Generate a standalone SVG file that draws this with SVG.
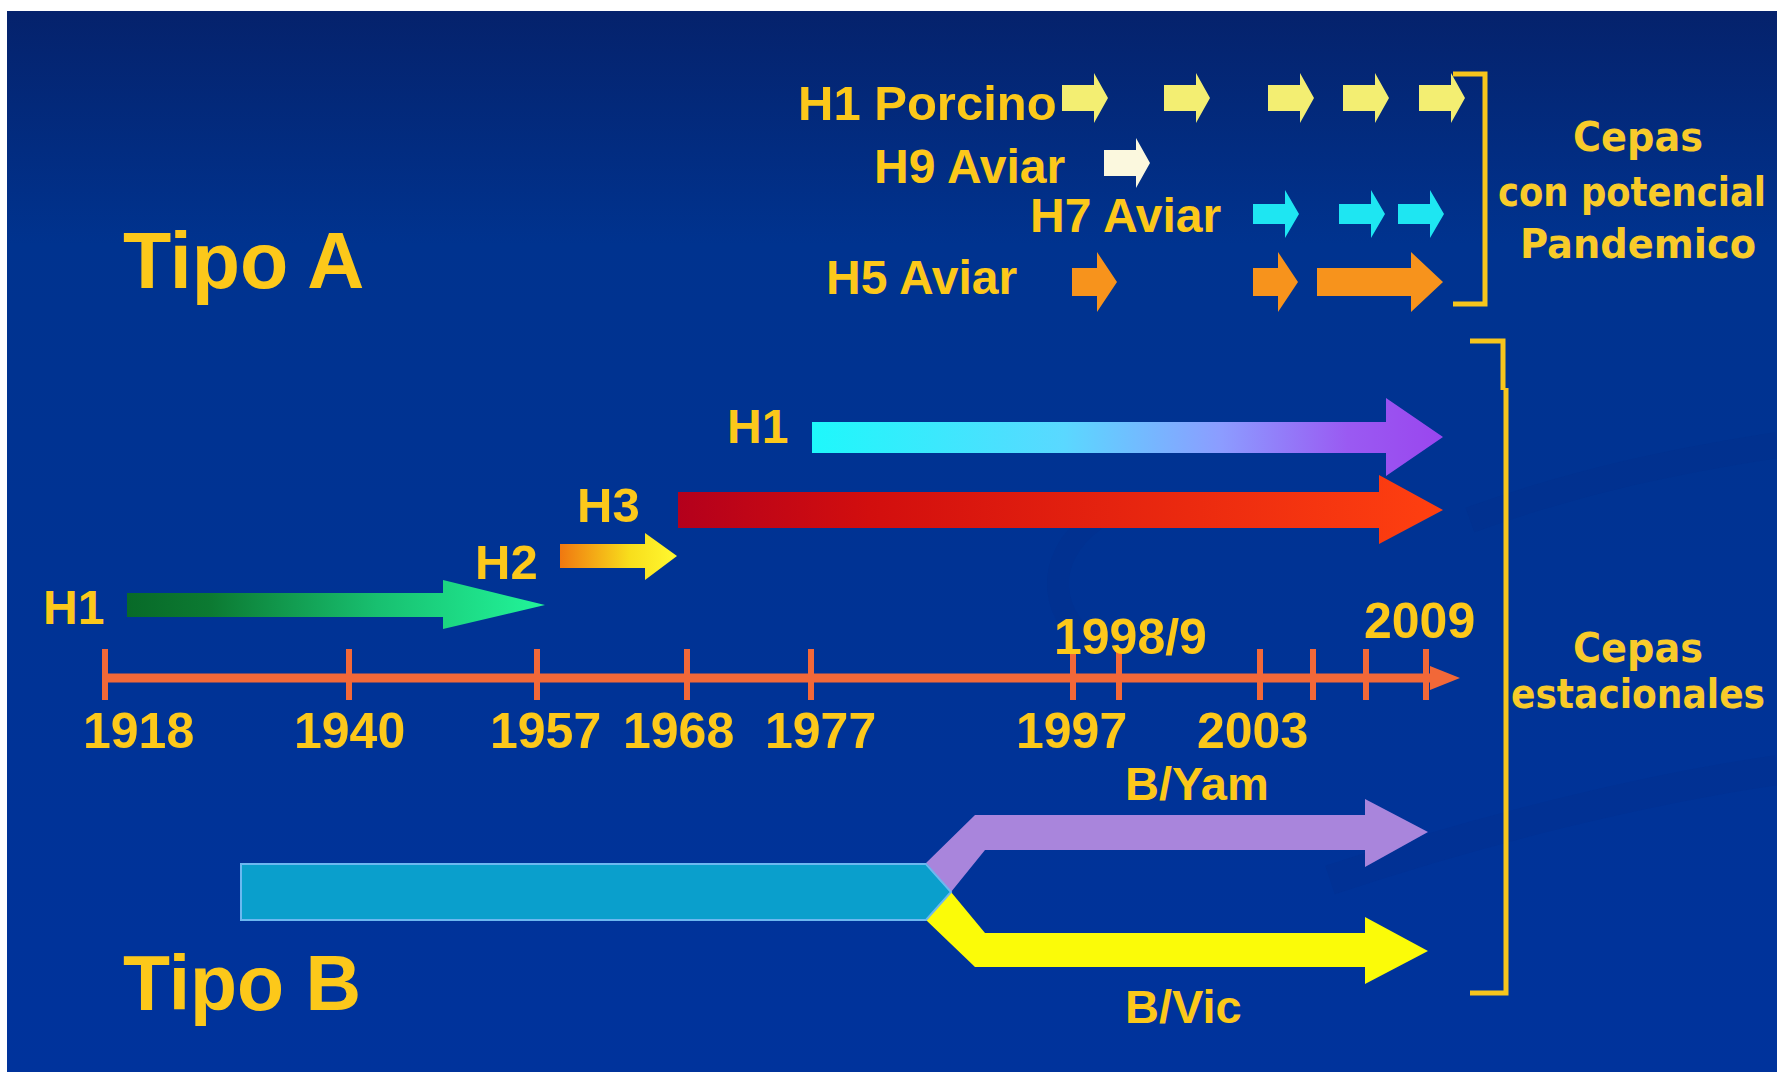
<svg xmlns="http://www.w3.org/2000/svg" xmlns:xlink="http://www.w3.org/1999/xlink" width="1777" height="1072" viewBox="0 0 1777 1072">
<defs>
<linearGradient id="bg" x1="0" y1="0" x2="0" y2="1">
<stop offset="0" stop-color="#05226c"/>
<stop offset="0.22" stop-color="#00338f"/>
<stop offset="1" stop-color="#00339c"/>
</linearGradient>
<linearGradient id="gGreen" gradientUnits="userSpaceOnUse" x1="127" y1="0" x2="545" y2="0">
<stop offset="0" stop-color="#086a28"/>
<stop offset="0.2" stop-color="#0c7a32"/>
<stop offset="0.6" stop-color="#18c070"/>
<stop offset="1" stop-color="#22f59a"/>
</linearGradient>
<linearGradient id="gH2" gradientUnits="userSpaceOnUse" x1="560" y1="0" x2="676" y2="0">
<stop offset="0" stop-color="#f07810"/>
<stop offset="0.6" stop-color="#f8de1c"/>
<stop offset="1" stop-color="#fff830"/>
</linearGradient>
<linearGradient id="gRed" gradientUnits="userSpaceOnUse" x1="678" y1="0" x2="1442" y2="0">
<stop offset="0" stop-color="#b4001c"/>
<stop offset="0.25" stop-color="#d20e0e"/>
<stop offset="1" stop-color="#ff4010"/>
</linearGradient>
<linearGradient id="gCyan" gradientUnits="userSpaceOnUse" x1="812" y1="0" x2="1442" y2="0">
<stop offset="0" stop-color="#1ef8fb"/>
<stop offset="0.4" stop-color="#5ad8ff"/>
<stop offset="0.65" stop-color="#8c9cff"/>
<stop offset="0.85" stop-color="#9a5af2"/>
<stop offset="1" stop-color="#9a46ee"/>
</linearGradient>
<path id="smallArrow" d="M0,-13 H32 V-25 L46,0 L32,25 V13 H0 Z"/>
<path id="smallArrow2" d="M0,-10 H32 V-24 L46,0 L32,24 V10 H0 Z"/>
<path id="orangeArrow" d="M0,-14 H25 V-30 L45,0 L25,30 V14 H0 Z"/>
</defs>
<style>
.t{font-family:"Liberation Sans",Arial,sans-serif;font-weight:bold;fill:#fcc81a}
.c{font-family:"DejaVu Sans",Verdana,sans-serif;font-weight:bold;fill:#f8cb2a;text-anchor:middle;font-size:40px}
.tick{stroke:#f26838;stroke-width:6}
.br{fill:none;stroke:#f7c51c;stroke-width:5}
</style>

<rect x="0" y="0" width="1777" height="1072" fill="#ffffff"/>
<rect x="7" y="11" width="1770" height="1061" fill="url(#bg)"/>
<g id="swirls" fill="none" stroke="#0a2a80" stroke-opacity="0.15">
<path d="M1095,520 C1040,560 1050,620 1100,650" stroke-width="22"/>
<path d="M1470,520 C1580,480 1680,460 1777,445" stroke-width="26"/>
<path d="M1330,880 C1480,830 1640,790 1777,770" stroke-width="30"/>
</g>

<g id="tipoA"><text class="t" x="123" y="288" font-size="79">Tipo A</text></g>
<g id="tipoB"><text class="t" x="123" y="1010" font-size="77">Tipo B</text></g>

<g id="h1porcino">
<text class="t" x="798" y="120" font-size="49">H1 Porcino</text>
<g fill="#f3ee72">
<use xlink:href="#smallArrow" x="1062" y="98"/>
<use xlink:href="#smallArrow" x="1164" y="98"/>
<use xlink:href="#smallArrow" x="1268" y="98"/>
<use xlink:href="#smallArrow" x="1343" y="98"/>
<use xlink:href="#smallArrow" x="1419" y="98"/>
</g>
</g>
<g id="h9aviar">
<text class="t" x="874" y="183" font-size="48">H9 Aviar</text>
<use xlink:href="#smallArrow" x="1104" y="163" fill="#fbf8de"/>
</g>
<g id="h7aviar">
<text class="t" x="1030" y="232" font-size="48">H7 Aviar</text>
<g fill="#1ee6f2">
<use xlink:href="#smallArrow2" x="1253" y="214"/>
<use xlink:href="#smallArrow2" x="1339" y="214"/>
<use xlink:href="#smallArrow2" x="1398" y="214"/>
</g>
</g>
<g id="h5aviar">
<text class="t" x="826" y="294" font-size="48">H5 Aviar</text>
<g fill="#f7931c">
<use xlink:href="#orangeArrow" x="1072" y="282"/>
<use xlink:href="#orangeArrow" x="1253" y="282"/>
<path d="M1317,268 H1411 V252 L1443,282 L1411,312 V296 H1317 Z"/>
</g>
</g>

<g id="pandemic-label">
<text class="c" x="1638" y="151" textLength="130" lengthAdjust="spacingAndGlyphs">Cepas</text>
<text class="c" x="1632" y="206" textLength="268" lengthAdjust="spacingAndGlyphs">con potencial</text>
<text class="c" x="1638" y="258" textLength="236" lengthAdjust="spacingAndGlyphs">Pandemico</text>
</g>
<g id="seasonal-label">
<text class="c" x="1638" y="662" textLength="130" lengthAdjust="spacingAndGlyphs">Cepas</text>
<text class="c" x="1638" y="708" textLength="254" lengthAdjust="spacingAndGlyphs">estacionales</text>
</g>

<g id="h1-1918">
<text class="t" x="43" y="624" font-size="48">H1</text>
<path d="M127,593 H443 V580 L545,605 L443,629 V617 H127 Z" fill="url(#gGreen)"/>
</g>
<g id="h2-1957">
<text class="t" x="475" y="579" font-size="49">H2</text>
<path d="M560,544 H645 V533 L677,556 L645,580 V568 H560 Z" fill="url(#gH2)"/>
</g>
<g id="h3-1968">
<text class="t" x="577" y="522" font-size="49">H3</text>
<path d="M678,492 H1379 V475 L1443,510 L1379,544 V528 H678 Z" fill="url(#gRed)"/>
</g>
<g id="h1-1977">
<text class="t" x="727" y="443" font-size="48">H1</text>
<path d="M812,422 H1386 V398 L1443,437 L1386,476 V453 H812 Z" fill="url(#gCyan)"/>
</g>

<g id="timeline">
<line x1="104" y1="678" x2="1440" y2="678" stroke="#f26838" stroke-width="9"/>
<path d="M1430,666 L1460,678 L1430,690 Z" fill="#f26838"/>
<line class="tick" x1="105" y1="649" x2="105" y2="700"/>
<line class="tick" x1="349" y1="649" x2="349" y2="700"/>
<line class="tick" x1="537" y1="649" x2="537" y2="700"/>
<line class="tick" x1="687" y1="649" x2="687" y2="700"/>
<line class="tick" x1="811" y1="649" x2="811" y2="700"/>
<line class="tick" x1="1073" y1="649" x2="1073" y2="700"/>
<line class="tick" x1="1119" y1="649" x2="1119" y2="700"/>
<line class="tick" x1="1260" y1="649" x2="1260" y2="700"/>
<line class="tick" x1="1313" y1="649" x2="1313" y2="700"/>
<line class="tick" x1="1366" y1="649" x2="1366" y2="700"/>
<line class="tick" x1="1426" y1="649" x2="1426" y2="700"/>
<g class="t" font-size="50">
<text x="83" y="748">1918</text>
<text x="294" y="748">1940</text>
<text x="490" y="748">1957</text>
<text x="623" y="748">1968</text>
<text x="765" y="748">1977</text>
<text x="1016" y="748">1997</text>
<text x="1197" y="748">2003</text>
<text x="1054" y="654">1998/9</text>
<text x="1364" y="638">2009</text>
</g>
</g>

<g id="tipoB-lineage">
<path d="M926,863 L975,815 H1365 V799 L1428,832 L1365,867 V850 H985 L951,892 Z" fill="#a985dc"/>
<path d="M951,892 L985,933 H1365 V917 L1428,951 L1365,984 V967 H975 L926,920 Z" fill="#fbfb08"/>
<path d="M241,864 H926 L951,892 L926,920 H241 Z" fill="#0a9fcc" stroke="#6cb8f0" stroke-width="2"/>
<text class="t" x="1125" y="800" font-size="47">B/Yam</text>
<text class="t" x="1125" y="1023" font-size="47">B/Vic</text>
</g>

<g id="brackets">
<path class="br" d="M1453,74 H1485 V304 H1453"/>
<path class="br" d="M1470,341 H1503 V390 M1506,388 V993 H1470"/>
</g>
</svg>
